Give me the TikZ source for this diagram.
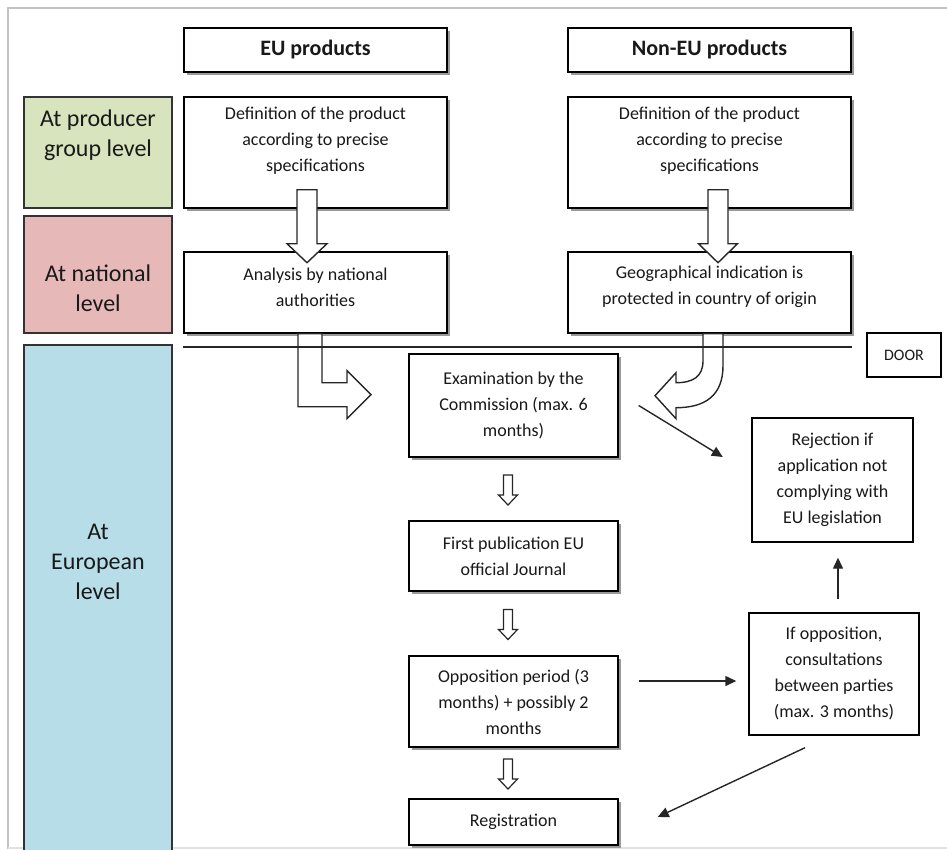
\documentclass[tikz,border=0pt]{standalone}
\usepackage{fontspec}
\setmainfont{Carlito}
\usepackage{tikz}
\usetikzlibrary{arrows.meta,calc,shadows}

\definecolor{grpgreen}{RGB}{215,228,189}
\definecolor{natred}{RGB}{230,185,184}
\definecolor{eurblue}{RGB}{183,222,232}
\definecolor{framegray}{RGB}{195,195,195}
\definecolor{inkgray}{RGB}{25,25,25}

\begin{document}
\begin{tikzpicture}[x=1pt,y=-1pt,
  >={Triangle[length=11pt,width=10pt]},
  box/.style={draw=black, line width=1.4pt, fill=white, inner sep=3pt, align=center, text=inkgray, font=\fontsize{18}{26}\selectfont},
  shbox/.style={box, drop shadow={shadow xshift=3pt, shadow yshift=-3pt, fill=black!40, opacity=1}},
  hdr/.style={shbox, font=\bfseries\fontsize{22}{26}\selectfont},
  boxtext/.style={align=center, text=inkgray, font=\fontsize{18}{26}\selectfont},
  lvl/.style={draw=black!80, line width=1.8pt},
  lvltext/.style={align=center, text=inkgray, font=\fontsize{24}{30}\selectfont},
  block/.style={draw=black!85, line width=1.4pt, fill=white, line join=miter},
  conn/.style={->, draw=black!85, line width=1.4pt}]
\useasboundingbox (0,0) rectangle (947,849);
\draw[framegray, line width=1.5pt] (8,849) -- (8,8) -- (947,8);
\draw[framegray!50, line width=2pt] (8,848) -- (947,848);

% headers
\draw (315.5,50) node[hdr, minimum width=263pt, minimum height=44pt] (hdrEU) {EU products};
\draw (709.5,50) node[hdr, minimum width=283pt, minimum height=44pt] (hdrNon) {Non-EU products};

% levels
\draw (98,152.5) node[lvl, fill=grpgreen, minimum width=148pt, minimum height=111pt] (grp) {};
\draw (98,274.5) node[lvl, fill=natred, minimum width=148pt, minimum height=117pt] (nat) {};
\draw (98,602.5) node[lvl, fill=eurblue, minimum width=148pt, minimum height=515pt] (eur) {};
\draw (98,135) node[lvltext] (grpT) {At producer\\group level};
\draw (98,288.5) node[lvltext] (natT) {At national\\level};
\draw (98,562) node[lvltext] (eurT) {At\\European\\level};

% boxes
\draw (315.5,152.5) node[shbox, minimum width=263pt, minimum height=111pt] (defEU) {};
\draw (315.5,141) node[boxtext] (defEUT) {Definition of the product\\according to precise\\specifications};
\draw (315.5,292.5) node[shbox, minimum width=263pt, minimum height=81pt] (anaEU) {};
\draw (315.5,287) node[boxtext] (anaEUT) {Analysis by national\\authorities};
\draw (709.5,152.5) node[shbox, minimum width=283pt, minimum height=111pt] (defNon) {};
\draw (709.5,141) node[boxtext] (defNonT) {Definition of the product\\according to precise\\specifications};
\draw (709.5,292.5) node[shbox, minimum width=283pt, minimum height=81pt] (geoNon) {};
\draw (709.5,287) node[boxtext] (geoNonT) {Geographical indication is\\protected in country of origin};
\draw (904,355) node[box, minimum width=74pt, minimum height=44pt, font=\fontsize{16}{18}\selectfont] (door) {DOOR};
\draw (513.5,405.5) node[shbox, minimum width=209pt, minimum height=103pt] (exam) {Examination by the\\Commission (max. 6\\months)};
\draw (832.5,480) node[box, minimum width=161pt, minimum height=124pt] (rej) {Rejection if\\application not\\complying with\\EU legislation};
\draw (513.5,556) node[shbox, minimum width=209pt, minimum height=70pt] (pub) {First publication EU\\official Journal};
\draw (513.5,701.5) node[shbox, minimum width=209pt, minimum height=91pt] (opp) {Opposition period (3\\months) + possibly 2\\months};
\draw (834,674) node[box, minimum width=170pt, minimum height=122pt] (cons) {If opposition,\\consultations\\between parties\\(max. 3 months)};
\draw (513.5,822) node[shbox, minimum width=209pt, minimum height=46pt] (reg) {Registration};

% block arrows
\draw[block] ($(defEU.south)+(-18.5,-19)$) -- ++(20,0) -- ++(0,54) -- ++(10,0) -- ++(-20,19) -- ++(-20,-19) -- ++(10,0) -- cycle;
\draw[block] ($(defNon.south)+(-1.5,-19)$) -- ++(20,0) -- ++(0,54) -- ++(9.5,0) -- ++(-19.5,19) -- ++(-19.5,-19) -- ++(9.5,0) -- cycle;
\draw[block] ($(anaEU.south)+(-17.5,0)$) -- ++(24,0) -- ++(0,49) -- ++(25,0) -- ++(0,-12) -- ++(24,24) -- ++(-24,24) -- ++(0,-12) -- ++(-49,0) -- cycle;
\begin{scope}[shift={(geoNon.south)}]
\draw[block] (-6.5,0) -- (-6.5,27) .. controls (-6.5,43) and (-16.5,49) .. (-33.5,49) -- (-33.5,39) -- (-54.5,62) -- (-33.5,85) -- (-33.5,74) .. controls (-4.5,74) and (13.5,62) .. (13.5,32) -- (13.5,0) -- cycle;
\end{scope}
\draw[black!85, line width=1.9pt] ($(anaEU.south west)+(0,13)$) -- ($(geoNon.south east)+(0,13)$);

\foreach \a/\b in {exam/pub,pub/opp,opp/reg}
  \draw[block, line width=1.2pt] ($(\a.south)!0.5!(\b.north)+(-10,-14)$) -- ++(9,0) -- ++(0,20) -- ++(5,0) -- ++(-9.5,10) -- ++(-9.5,-10) -- ++(5,0) -- cycle;

% connectors
\draw[conn] ($(exam.east)+(20,0)$) -- ($(rej.west)+(-28.5,-23)$);
\draw[conn] ($(opp.east)+(20,-20.5)$) -- ($(cons.west)+(-12,7)$);
\draw[conn] ($(cons.north)+(4,-13)$) -- ($(rej.south)+(5.5,15)$);
\draw[conn] ($(cons.south)+(-29,12)$) -- ($(reg.east)+(39,-5)$);

\end{tikzpicture}
\end{document}
